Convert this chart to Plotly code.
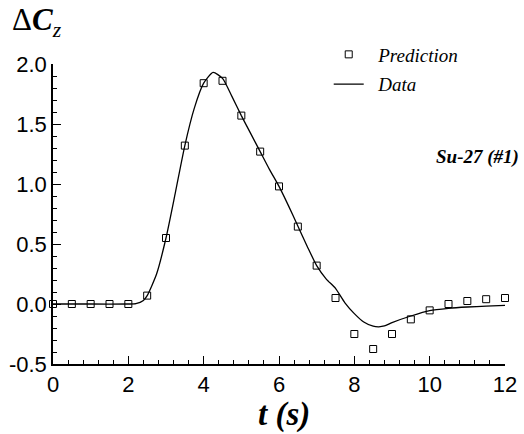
import plotly.graph_objects as go

# Prediction (squares)
t_pred = [0, 0.5, 1, 1.5, 2, 2.5, 3, 3.5, 4, 4.5, 5, 5.5, 6, 6.5, 7, 7.5, 8, 8.5, 9, 9.5, 10, 10.5, 11, 11.5, 12]
cz_pred = [0, 0, 0, 0, 0, 0.07, 0.55, 1.32, 1.84, 1.86, 1.57, 1.27, 0.98, 0.645, 0.32, 0.05,
           -0.25, -0.375, -0.25, -0.128, -0.053, 0.0, 0.025, 0.04, 0.05]

# Data (line)
t_data = [0, 1, 2, 2.2, 2.4, 2.5, 2.75, 3, 3.25, 3.5, 3.75, 4, 4.25, 4.5, 4.75, 5, 5.25, 5.5, 5.75,
          6, 6.25, 6.5, 6.75, 7, 7.25, 7.5, 7.75, 8, 8.25, 8.5, 8.65, 8.8, 9, 9.5, 10, 10.5, 11, 11.5, 12]
cz_data = [0, 0, 0, 0.003, 0.03, 0.07, 0.25, 0.55, 0.93, 1.32, 1.63, 1.84, 1.93, 1.88, 1.73, 1.57,
           1.42, 1.27, 1.12, 0.98, 0.82, 0.65, 0.48, 0.32, 0.21, 0.13, 0.01, -0.08, -0.15, -0.185,
           -0.19, -0.183, -0.155, -0.1, -0.055, -0.036, -0.025, -0.018, -0.012]

y_tickvals = [-0.5, 0.0, 0.5, 1.0, 1.5, 2.0]
y_ticktext = ["-0.5", "0.0", "0.5", "1.0", "1.5", "2.0"]

NB = "\u00a0\u00a0"

fig = go.Figure()
fig.add_trace(go.Scatter(x=t_pred, y=cz_pred, mode="markers", name=NB + "Prediction",
                         legendgroup="a",
                         marker=dict(symbol="square-open", size=7, color="black", line=dict(width=1)),
                         cliponaxis=False))
fig.add_trace(go.Scatter(x=t_data, y=cz_data, mode="lines", name=NB + "Data",
                         legendgroup="b",
                         line=dict(color="black", width=1.3, shape="spline", smoothing=0.6),
                         cliponaxis=False))

fig.update_layout(
    width=524, height=434,
    margin=dict(l=53, r=19, t=64, b=70, autoexpand=False),
    plot_bgcolor="white", paper_bgcolor="white",
    showlegend=True,
    legend=dict(x=0.61, y=1.095, xanchor="left", yanchor="top",
                font=dict(family="Liberation Serif", size=19, color="black", style="italic"),
                tracegroupgap=2, bgcolor="rgba(0,0,0,0)", itemwidth=30),
    xaxis=dict(range=[0, 12], dtick=2, tick0=0, showgrid=False, zeroline=False, automargin=False,
               showline=True, linecolor="black", linewidth=1.5,
               ticks="inside", ticklen=8, tickwidth=1.2, tickcolor="black",
               minor=dict(ticks="inside", ticklen=4, dtick=0.4, tickcolor="black", tickwidth=1),
               tickfont=dict(family="Liberation Sans", size=22, color="black")),
    yaxis=dict(range=[-0.5, 2.0], tickvals=y_tickvals, ticktext=y_ticktext,
               showgrid=False, zeroline=False, automargin=False,
               showline=True, linecolor="black", linewidth=1.5,
               ticks="inside", ticklen=8, tickwidth=1.2, tickcolor="black",
               minor=dict(ticks="inside", ticklen=4, dtick=0.1, tick0=0, tickcolor="black", tickwidth=1),
               tickfont=dict(family="Liberation Sans", size=22, color="black")),
    annotations=[
        dict(text="Δ<b><i>C</i></b><sub><i>z</i></sub>", xref="paper", yref="paper",
             x=-0.095, y=1.14, xanchor="left", yanchor="middle", showarrow=False,
             font=dict(family="Liberation Serif", size=31, color="black")),
        dict(text="<b><i>t (s)</i></b>", xref="paper", yref="paper",
             x=0.51, y=-0.168, xanchor="center", yanchor="middle", showarrow=False,
             font=dict(family="Liberation Serif", size=33, color="black")),
        dict(text="<b><i>Su-27 (#1)</i></b>", xref="paper", yref="paper",
             x=1.035, y=0.69, xanchor="right", yanchor="middle", showarrow=False,
             font=dict(family="Liberation Serif", size=19, color="black")),
    ],
)

fig.write_html("out.html")
